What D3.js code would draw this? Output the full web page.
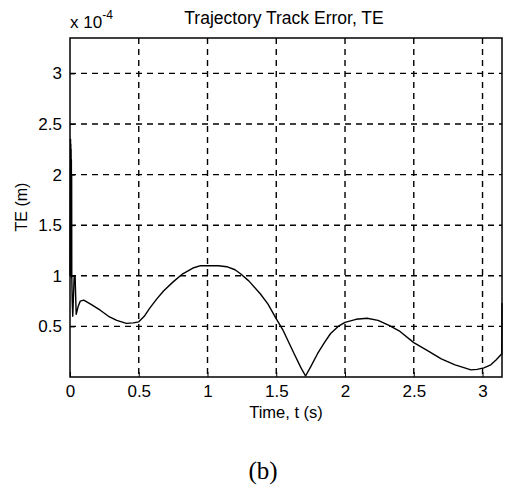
<!DOCTYPE html>
<html>
<head>
<meta charset="utf-8">
<script src="https://cdn.jsdelivr.net/npm/d3@7"></script>
<style>
  body { margin: 0; background: #fff; }
  text { font-family: "Liberation Sans", Arial, sans-serif; fill: #000; }
</style>
</head>
<body>
<svg id="chart" width="509" height="490"></svg>
<script>
// time (s) and track error (x 1e-4 m)
// the first ms oscillate fast between ~1 and ~2.35, giving the thick band at t = 0
var timeVals = [0, 0.004, 0.005, 0.006, 0.007, 0.008, 0.009, 0.010, 0.011, 0.012, 0.013, 0.016, 0.02, 0.03, 0.037, 0.045, 0.06, 0.075, 0.1, 0.15, 0.22, 0.28, 0.34, 0.41, 0.46, 0.5, 0.54, 0.58, 0.63, 0.68, 0.75, 0.82, 0.9, 0.95, 1.0, 1.08, 1.14, 1.2, 1.24, 1.3, 1.385, 1.44, 1.494, 1.55, 1.63, 1.68, 1.713, 1.75, 1.8, 1.85, 1.895, 1.95, 2.0, 2.08, 2.16, 2.24, 2.32, 2.4, 2.5, 2.6, 2.7, 2.8, 2.87, 2.915, 2.96, 3.01, 3.06, 3.1, 3.14, 3.1416];
var teVals   = [1.0, 2.35, 1.0, 2.3, 1.0, 2.25, 1.0, 2.15, 0.98, 2.0, 1.0, 0.75, 0.6, 0.98, 1.0, 0.62, 0.7, 0.75, 0.76, 0.72, 0.66, 0.6, 0.56, 0.53, 0.535, 0.545, 0.6, 0.68, 0.77, 0.85, 0.94, 1.02, 1.08, 1.1, 1.1, 1.1, 1.09, 1.06, 1.02, 0.95, 0.82, 0.72, 0.59, 0.46, 0.23, 0.09, 0.01, 0.1, 0.23, 0.34, 0.43, 0.5, 0.54, 0.57, 0.58, 0.56, 0.51, 0.45, 0.34, 0.26, 0.18, 0.12, 0.09, 0.07, 0.075, 0.09, 0.12, 0.17, 0.23, 0.73];

var xTicks = [0, 0.5, 1, 1.5, 2, 2.5, 3];
var yTicks = [0.5, 1, 1.5, 2, 2.5, 3];

var margin = {left: 70, top: 38, right: 7, bottom: 113};
var width = 509 - margin.left - margin.right;
var height = 490 - margin.top - margin.bottom;

var svg = d3.select("#chart");
var g = svg.append("g")
    .attr("transform", "translate(" + margin.left + "," + margin.top + ")");

var x = d3.scaleLinear().domain([0, Math.PI]).range([0, width]);
var y = d3.scaleLinear().domain([0, 3.35]).range([height, 0]);

// grid
g.selectAll("line.vgrid")
    .data(xTicks.filter(function(d){ return d > 0; }))
    .enter().append("line")
    .attr("x1", function(d){ return x(d); })
    .attr("x2", function(d){ return x(d); })
    .attr("y1", 0).attr("y2", height)
    .attr("stroke", "#000").attr("stroke-width", 1.4)
    .attr("stroke-dasharray", "6,5");

g.selectAll("line.hgrid")
    .data(yTicks)
    .enter().append("line")
    .attr("x1", 0).attr("x2", width)
    .attr("y1", function(d){ return y(d); })
    .attr("y2", function(d){ return y(d); })
    .attr("stroke", "#000").attr("stroke-width", 1.4)
    .attr("stroke-dasharray", "6,5");

// axes
var xAxis = d3.axisBottom(x).tickValues(xTicks).tickSize(-5).tickPadding(8)
    .tickFormat(function(d){ return d; });
var yAxis = d3.axisLeft(y).tickValues(yTicks).tickSize(-5).tickPadding(8)
    .tickFormat(function(d){ return d; });

var gx = g.append("g").attr("transform", "translate(0," + height + ")").call(xAxis);
var gy = g.append("g").call(yAxis);
[gx, gy].forEach(function(a){
    a.select(".domain").remove();
    a.selectAll("text").style("font-size", "17px").style("font-family", "Liberation Sans, Arial, sans-serif");
    a.selectAll("line").attr("stroke", "#000");
});

// box
g.append("rect")
    .attr("x", 0).attr("y", 0)
    .attr("width", width).attr("height", height)
    .attr("fill", "none").attr("stroke", "#000").attr("stroke-width", 1.5);

// curve
var line = d3.line()
    .x(function(d){ return x(d[0]); })
    .y(function(d){ return y(d[1]); });

g.append("path")
    .datum(d3.zip(timeVals, teVals))
    .attr("d", line)
    .attr("fill", "none")
    .attr("stroke", "#000")
    .attr("stroke-width", 1.4)
    .attr("stroke-linejoin", "round");

// labels
svg.append("text")
    .attr("x", 284).attr("y", 24)
    .attr("text-anchor", "middle")
    .style("font-size", "17.5px")
    .text("Trajectory Track Error, TE");

var exp = svg.append("text").attr("x", 70).attr("y", 28).style("font-size", "17px");
exp.append("tspan").text("x 10");
exp.append("tspan").attr("dy", -9).style("font-size", "12px").text("-4");

svg.append("text")
    .attr("transform", "translate(27,207) rotate(-90)")
    .attr("text-anchor", "middle")
    .style("font-size", "16px")
    .text("TE (m)");

svg.append("text")
    .attr("x", 286).attr("y", 418)
    .attr("text-anchor", "middle")
    .style("font-size", "16.5px")
    .text("Time, t (s)");

svg.append("text")
    .attr("x", 263).attr("y", 479)
    .attr("text-anchor", "middle")
    .style("font-family", "Liberation Serif, Times New Roman, serif")
    .style("font-size", "25px")
    .text("(b)");
</script>
</body>
</html>
